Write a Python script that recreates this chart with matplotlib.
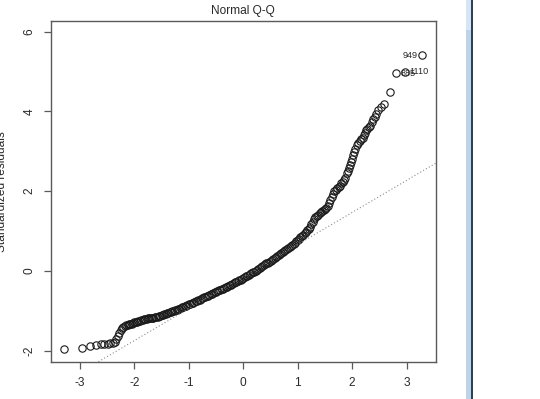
import matplotlib
matplotlib.use("Agg")
import matplotlib.pyplot as plt
from matplotlib.patches import Rectangle

plt.rcParams['font.family'] = ['Liberation Sans', 'DejaVu Sans']

# ---------------- data ----------------
# lower tail: theoretical quantile / standardized residual
low_q = [-3.29, -2.97, -2.81, -2.70, -2.62, -2.55, -2.49, -2.44, -2.40, -2.36,
         -2.33, -2.31, -2.28, -2.25, -2.23]
low_r = [-1.965, -1.925, -1.88, -1.86, -1.84, -1.83, -1.82, -1.815, -1.80, -1.78,
         -1.70, -1.62, -1.56, -1.49, -1.44]

# dense middle part
mid_q = [-2.200, -2.175, -2.150, -2.125, -2.100, -2.075, -2.050, -2.025, -2.000, -1.975,
         -1.950, -1.925, -1.900, -1.875, -1.850, -1.825, -1.800, -1.775, -1.750, -1.725,
         -1.700, -1.675, -1.650, -1.625, -1.600, -1.575, -1.550, -1.525, -1.500, -1.475,
         -1.450, -1.425, -1.400, -1.375, -1.350, -1.325, -1.300, -1.275, -1.250, -1.225,
         -1.200, -1.175, -1.150, -1.125, -1.100, -1.075, -1.050, -1.025, -1.000, -0.975,
         -0.950, -0.925, -0.900, -0.875, -0.850, -0.825, -0.800, -0.775, -0.750, -0.725,
         -0.700, -0.675, -0.650, -0.625, -0.600, -0.575, -0.550, -0.525, -0.500, -0.475,
         -0.450, -0.425, -0.400, -0.375, -0.350, -0.325, -0.300, -0.275, -0.250, -0.225,
         -0.200, -0.175, -0.150, -0.125, -0.100, -0.075, -0.050, -0.025, 0.000, 0.025,
         0.050, 0.075, 0.100, 0.125, 0.150, 0.175, 0.200, 0.225, 0.250, 0.275,
         0.300, 0.325, 0.350, 0.375, 0.400, 0.425, 0.450, 0.475, 0.500, 0.525,
         0.550, 0.575, 0.600, 0.625, 0.650, 0.675, 0.700, 0.725, 0.750, 0.775,
         0.800, 0.825, 0.850, 0.875, 0.900, 0.925, 0.950, 0.975, 1.000, 1.025,
         1.050, 1.075, 1.100, 1.125, 1.150, 1.175, 1.200, 1.225, 1.250, 1.275,
         1.300, 1.325, 1.350, 1.375, 1.400, 1.425, 1.450, 1.475, 1.500]
mid_r = [-1.400, -1.380, -1.360, -1.350, -1.340, -1.330, -1.320, -1.305, -1.290, -1.280,
         -1.270, -1.260, -1.250, -1.235, -1.220, -1.210, -1.200, -1.195, -1.190, -1.185,
         -1.180, -1.175, -1.170, -1.165, -1.160, -1.150, -1.140, -1.125, -1.110, -1.095,
         -1.080, -1.070, -1.060, -1.050, -1.040, -1.025, -1.010, -1.000, -0.990, -0.975,
         -0.960, -0.945, -0.930, -0.915, -0.900, -0.885, -0.870, -0.855, -0.840, -0.825,
         -0.810, -0.795, -0.780, -0.765, -0.750, -0.735, -0.720, -0.700, -0.680, -0.665,
         -0.650, -0.635, -0.620, -0.605, -0.590, -0.575, -0.560, -0.540, -0.520, -0.505,
         -0.490, -0.475, -0.460, -0.445, -0.430, -0.415, -0.400, -0.380, -0.360, -0.345,
         -0.330, -0.310, -0.290, -0.275, -0.260, -0.240, -0.220, -0.200, -0.180, -0.160,
         -0.140, -0.120, -0.100, -0.080, -0.060, -0.040, -0.020, 0.005, 0.030, 0.050,
         0.070, 0.095, 0.120, 0.145, 0.170, 0.190, 0.210, 0.235, 0.260, 0.285,
         0.310, 0.335, 0.360, 0.385, 0.410, 0.435, 0.460, 0.485, 0.510, 0.535,
         0.560, 0.585, 0.610, 0.635, 0.660, 0.685, 0.710, 0.740, 0.770, 0.805,
         0.840, 0.875, 0.910, 0.945, 0.980, 1.020, 1.060, 1.110, 1.170, 1.235,
         1.300, 1.340, 1.380, 1.410, 1.440, 1.465, 1.490, 1.515, 1.540]

# upper tail
up_q = [1.525, 1.55, 1.575, 1.60, 1.625, 1.65, 1.675, 1.70, 1.725, 1.75,
        1.775, 1.80, 1.825, 1.85, 1.875, 1.90, 1.92, 1.94, 1.96, 1.98,
        2.00, 2.02, 2.04, 2.06, 2.09, 2.11, 2.14, 2.17, 2.19, 2.22,
        2.24, 2.26, 2.28, 2.30, 2.33, 2.36, 2.38, 2.41, 2.44, 2.47,
        2.53, 2.58, 2.69, 2.81, 2.97, 3.29]
up_r = [1.57, 1.62, 1.70, 1.78, 1.86, 1.92, 1.99, 2.04, 2.07, 2.10,
        2.14, 2.20, 2.24, 2.27, 2.32, 2.45, 2.51, 2.58, 2.65, 2.74,
        2.80, 2.90, 2.98, 3.06, 3.16, 3.20, 3.26, 3.30, 3.33, 3.40,
        3.45, 3.52, 3.56, 3.60, 3.64, 3.74, 3.81, 3.86, 3.92, 4.03,
        4.12, 4.18, 4.48, 4.95, 4.99, 5.40]

# labelled extreme observations
id_labels = ["885", "1110", "949"]
id_q = [2.81, 2.97, 3.29]
id_r = [4.95, 4.99, 5.40]
id_side = ["right", "right", "left"]

# reference line (qqline): intercept, slope
line_intercept = -0.14
line_slope = 0.803

x_ticks = [-3, -2, -1, 0, 1, 2, 3]
y_ticks = [-2, 0, 2, 4, 6]
title = "Normal Q-Q"
ylabel = "Standardized residuals"

# ---------------- figure ----------------
W, H = 540, 399
fig = plt.figure(figsize=(W / 100, H / 100), dpi=100)
ax = fig.add_axes([50.7 / W, 1 - 361.7 / H, (435.7 - 50.7) / W, (361.7 - 20.7) / H])

fs = 8.6
frame = "#5a5a5a"
txt = "#2a2a2a"

qs = low_q + mid_q + up_q
rs = low_r + mid_r + up_r
ax.plot(qs, rs, linestyle="none", marker="o", markersize=5.3,
        markerfacecolor="none", markeredgecolor="#1a1a1a", markeredgewidth=0.8)

ax.axline((0, line_intercept), slope=line_slope, color="#8c8c8c",
          linestyle=(0, (1, 2)), linewidth=0.8)

for lab, q, r, side in zip(id_labels, id_q, id_r, id_side):
    off = 3.3 if side == "right" else -3.3
    ax.annotate(lab, (q, r), xytext=(off, 0), textcoords="offset points",
                ha="left" if side == "right" else "right", va="center",
                fontsize=6.6, color=txt, annotation_clip=False)

ax.set_xlim(-3.537, 3.534)
ax.set_ylim(-2.276, 6.271)
ax.set_xticks(x_ticks)
ax.set_yticks(y_ticks)
ax.set_xticklabels([str(t) for t in x_ticks])
ax.set_yticklabels([str(t) for t in y_ticks], rotation=90, va="center")
ax.tick_params(axis="both", direction="out", length=4.7, width=0.9,
               color=frame, labelcolor=txt, labelsize=fs, pad=6.0)
for s in ax.spines.values():
    s.set_color(frame)
    s.set_linewidth(1.0)

fig.text(243.2 / W, 1 - 11 / H, title, ha="center", va="center",
         fontsize=fs, color=txt)
fig.text(8.5 / W, 1 - 191.2 / H, ylabel, rotation=90, ha="right", va="center",
         fontsize=fs, color=txt)

# window edge at right of the screenshot
fig.patches.append(Rectangle((466 / W, 0), 4.5 / W, 1, transform=fig.transFigure,
                             facecolor="#bcd3ea", edgecolor="none"))
fig.patches.append(Rectangle((466 / W, 1 - 30 / H), 4.5 / W, 30 / H, transform=fig.transFigure,
                             facecolor="#d6e5f3", edgecolor="none"))
fig.patches.append(Rectangle((470.5 / W, 0), 2.0 / W, 1, transform=fig.transFigure,
                             facecolor="#2b4258", edgecolor="none"))

fig.savefig("out.png", dpi=100)
